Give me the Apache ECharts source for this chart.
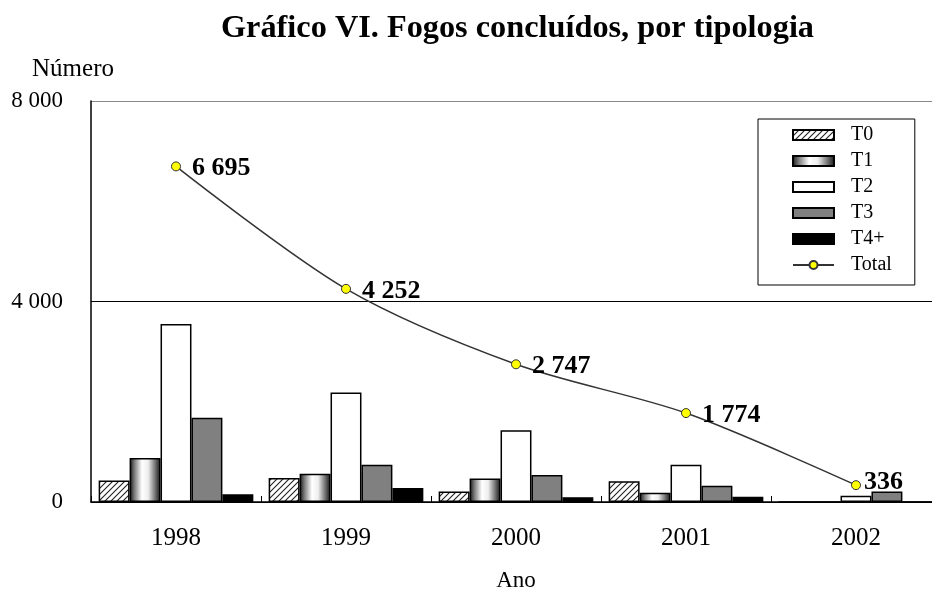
<!DOCTYPE html>
<html lang="pt">
<head>
<meta charset="UTF-8">
<title>Gráfico VI. Fogos concluídos, por tipologia</title>
<script src="https://cdn.jsdelivr.net/npm/echarts@6/dist/echarts.min.js"></script>
<style>
  html, body { margin: 0; padding: 0; background: #fff; }
  #chart { width: 932px; height: 589px; }
</style>
</head>
<body>
<div id="chart"></div>
<script>
  const anos = ["1998", "1999", "2000", "2001", "2002"];
  const t0 = [430, 480, 210, 415, 0];
  const t1 = [880, 565, 470, 185, 0];
  const t2 = [3550, 2185, 1430, 745, 126];
  const t3 = [1680, 745, 540, 325, 210];
  const t4 = [155, 277, 97, 104, 0];
  const total = [6695, 4252, 2747, 1774, 336];
  const yTicks = [0, 4000, 8000];

  const serif = "'Liberation Serif', 'Times New Roman', serif";

  // separador de milhares com espaço
  function fmt(v) {
    return String(v).replace(/\B(?=(\d{3})+(?!\d))/g, " ");
  }

  // padrão tracejado para T0
  function hatch() {
    const c = document.createElement("canvas");
    c.width = 6; c.height = 6;
    const g = c.getContext("2d");
    g.fillStyle = "#fff";
    g.fillRect(0, 0, 6, 6);
    g.strokeStyle = "#222";
    g.lineWidth = 1.1;
    g.beginPath();
    g.moveTo(0, 6); g.lineTo(6, 0);
    g.moveTo(-3, 3); g.lineTo(3, -3);
    g.moveTo(3, 9); g.lineTo(9, 3);
    g.stroke();
    return c;
  }

  const cilindro = {
    type: "linear", x: 0, y: 0, x2: 1, y2: 0,
    colorStops: [
      { offset: 0, color: "#111" },
      { offset: 0.15, color: "#777" },
      { offset: 0.4, color: "#fff" },
      { offset: 0.6, color: "#eee" },
      { offset: 0.85, color: "#666" },
      { offset: 1, color: "#111" }
    ]
  };

  function barra(nome, dados, cor) {
    return {
      name: nome,
      type: "bar",
      data: dados,
      barGap: "0%",
      barCategoryGap: "9%",
      itemStyle: { color: cor, borderColor: "#000", borderWidth: 1.5 }
    };
  }

  const chart = echarts.init(document.getElementById("chart"));
  chart.setOption({
    animation: false,
    backgroundColor: "#fff",
    textStyle: { fontFamily: serif, color: "#000" },
    title: {
      text: "Gráfico VI. Fogos concluídos, por tipologia",
      left: 216,
      top: 8,
      textStyle: { fontFamily: serif, fontSize: 32.3, fontWeight: "bold", color: "#000" }
    },
    legend: {
      orient: "vertical",
      left: 758,
      top: 119,
      padding: [6, 23, 10, 34],
      itemWidth: 41,
      itemHeight: 10,
      itemGap: 6,
      borderColor: "#000",
      borderWidth: 1,
      backgroundColor: "#fff",
      textStyle: { fontFamily: serif, fontSize: 20, color: "#000", padding: [0, 0, 0, 12] },
      data: [
        { name: "T0", icon: "rect" },
        { name: "T1", icon: "rect" },
        { name: "T2", icon: "rect" },
        { name: "T3", icon: "rect" },
        { name: "T4+", icon: "rect" },
        { name: "Total" }
      ]
    },
    grid: { left: 91, right: -9, top: 101, bottom: 87, outerBoundsMode: "none" },
    xAxis: {
      type: "category",
      data: anos,
      name: "Ano",
      nameLocation: "middle",
      nameGap: 67,
      nameTextStyle: { fontFamily: serif, fontSize: 23, color: "#000" },
      axisLine: { lineStyle: { color: "#000", width: 1.5 } },
      axisTick: { show: true, inside: true, length: 6, lineStyle: { color: "#000" } },
      axisLabel: { fontFamily: serif, fontSize: 25, color: "#000", margin: 24 }
    },
    yAxis: {
      type: "value",
      min: yTicks[0],
      max: yTicks[yTicks.length - 1],
      interval: yTicks[1] - yTicks[0],
      name: "Número",
      nameLocation: "end",
      nameGap: 19,
      nameTextStyle: { fontFamily: serif, fontSize: 25, color: "#000", align: "center", padding: [0, 36, 0, 0] },
      axisLine: { show: true, lineStyle: { color: "#000", width: 1.5 } },
      axisTick: { show: false },
      axisLabel: { fontFamily: serif, fontSize: 23, color: "#000", margin: 28, formatter: fmt },
      splitLine: { show: true, lineStyle: { color: ["#000", "#000", "#888"], width: 1.2 } }
    },
    series: [
      barra("T0", t0, { image: hatch(), repeat: "repeat" }),
      barra("T1", t1, cilindro),
      barra("T2", t2, "#fff"),
      barra("T3", t3, "#808080"),
      barra("T4+", t4, "#000"),
      {
        name: "Total",
        type: "line",
        data: total.map((v, i) => i === total.length - 1
          ? { value: v, label: { offset: [-8, -3] } }
          : v),
        smooth: 0.3,
        symbol: "circle",
        symbolSize: 9,
        z: 5,
        lineStyle: { color: "#333", width: 1.5 },
        itemStyle: { color: "#ffff00", borderColor: "#333", borderWidth: 1 },
        label: {
          show: true,
          position: "right",
          distance: 11,
          offset: [0, 2],
          fontFamily: serif,
          fontSize: 26,
          fontWeight: "bold",
          color: "#000",
          formatter: p => fmt(p.value)
        }
      }
    ]
  });
</script>
</body>
</html>
